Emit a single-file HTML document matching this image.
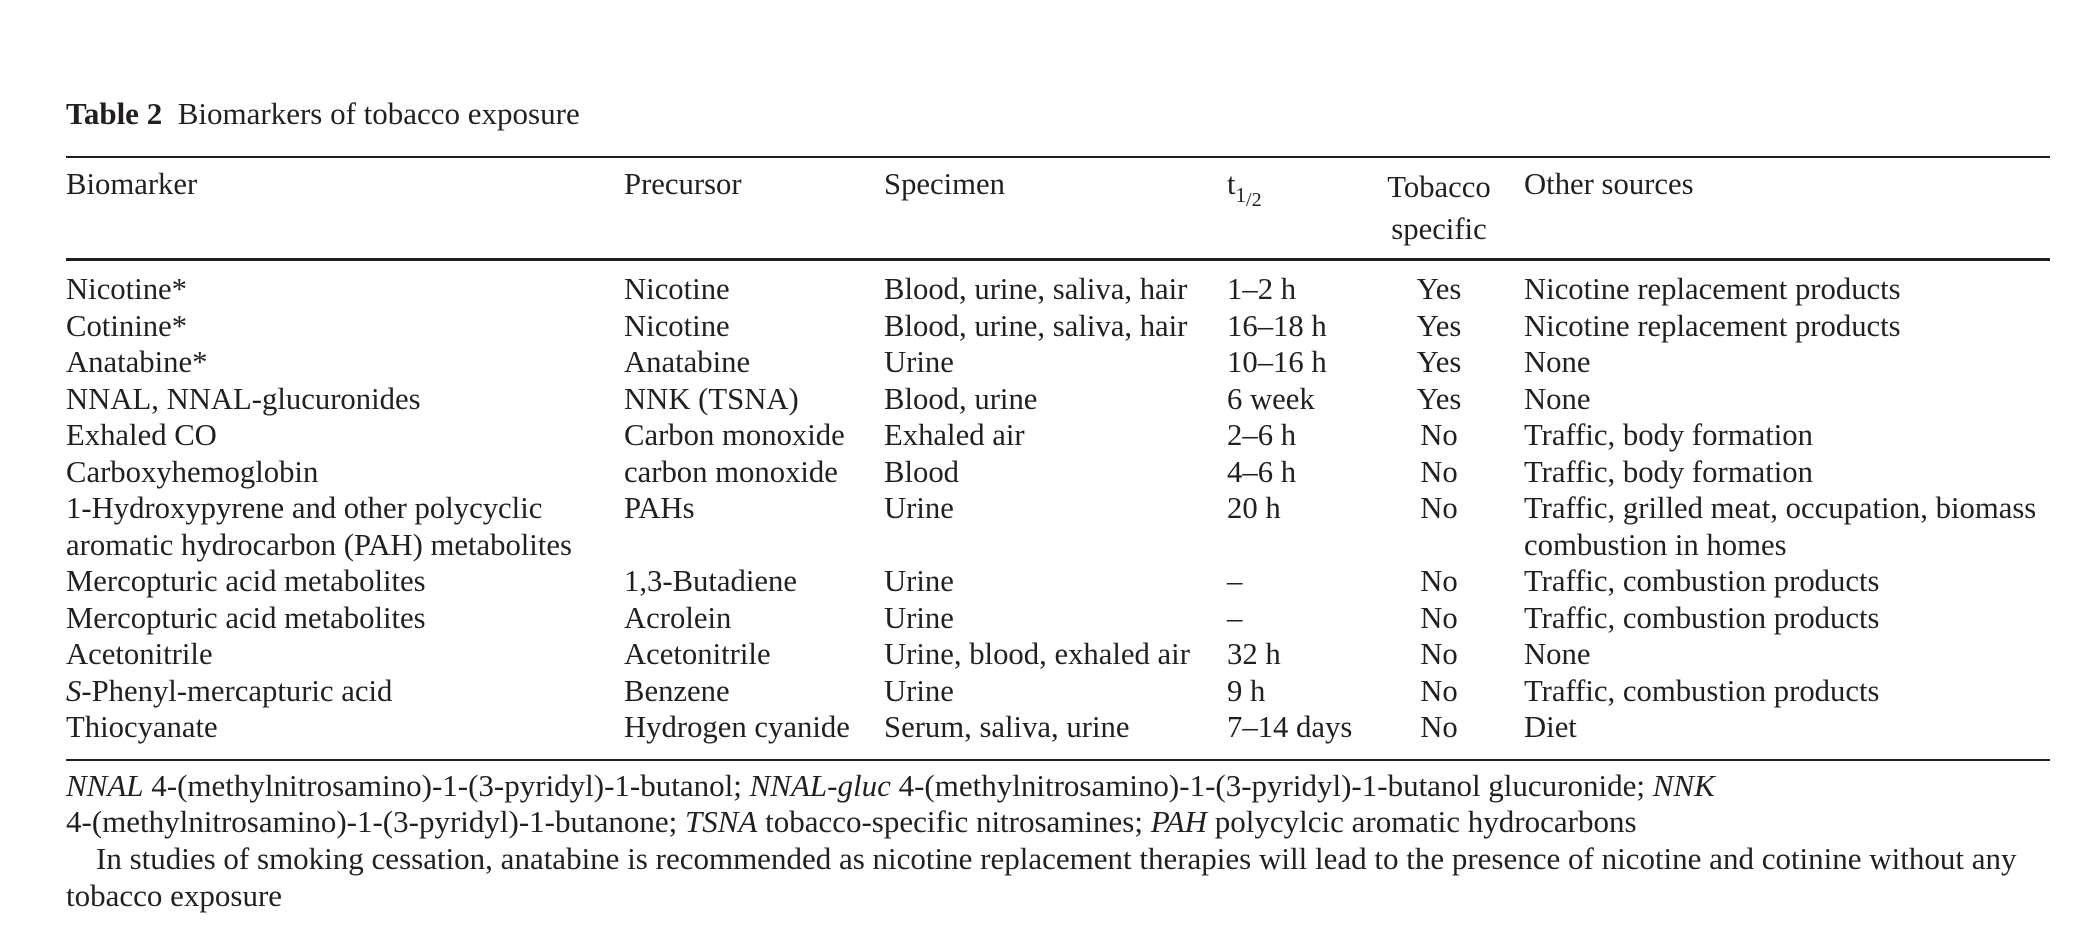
<!DOCTYPE html>
<html><head><meta charset="utf-8">
<style>
body{margin:0;background:#fff;width:2076px;height:949px;position:relative;overflow:hidden;font-family:"Liberation Serif",serif;color:#231f20;font-size:30.7px}
.t{position:absolute;white-space:nowrap;line-height:36.5px}
.fn{font-size:31px}
.rule{position:absolute;left:66px;width:1984px;background:#231f20}
i{font-style:italic}
</style></head><body>
<div class="t fn" style="left:66px;top:96px"><b>Table 2</b>&nbsp; Biomarkers of tobacco exposure</div>
<div class="rule" style="top:156px;height:2px"></div>
<div class="t" style="left:66px;top:166px">Biomarker</div>
<div class="t" style="left:624px;top:166px">Precursor</div>
<div class="t" style="left:884px;top:166px">Specimen</div>
<div class="t" style="left:1227px;top:166px">t<span style="font-size:21px;position:relative;top:8px">1</span><span style="font-size:20px;position:relative;top:12px">/2</span></div>
<div class="t" style="left:1364px;top:166px;width:150px;text-align:center;line-height:42px;white-space:normal">Tobacco specific</div>
<div class="t" style="left:1524px;top:166px">Other sources</div>
<div class="rule" style="top:258px;height:3px"></div>
<div id="rows"></div>
<div class="rule" style="top:759px;height:2px"></div>
<div class="t fn" style="left:66px;top:768px"><i>NNAL</i> 4-(methylnitrosamino)-1-(3-pyridyl)-1-butanol; <i>NNAL-gluc</i> 4-(methylnitrosamino)-1-(3-pyridyl)-1-butanol glucuronide; <i>NNK</i></div>
<div class="t fn" style="left:66px;top:804px">4-(methylnitrosamino)-1-(3-pyridyl)-1-butanone; <i>TSNA</i> tobacco-specific nitrosamines; <i>PAH</i> polycylcic aromatic hydrocarbons</div>
<div class="t fn" style="left:96px;top:841px">In studies of smoking cessation, anatabine is recommended as nicotine replacement therapies will lead to the presence of nicotine and cotinine without any</div>
<div class="t fn" style="left:66px;top:878px">tobacco exposure</div>
<script>
const biomarkers=["Nicotine*","Cotinine*","Anatabine*","NNAL, NNAL-glucuronides","Exhaled CO","Carboxyhemoglobin","1-Hydroxypyrene and other polycyclic<br>aromatic hydrocarbon (PAH) metabolites","Mercopturic acid metabolites","Mercopturic acid metabolites","Acetonitrile","<i>S</i>-Phenyl-mercapturic acid","Thiocyanate"];
const precursors=["Nicotine","Nicotine","Anatabine","NNK (TSNA)","Carbon monoxide","carbon monoxide","PAHs","1,3-Butadiene","Acrolein","Acetonitrile","Benzene","Hydrogen cyanide"];
const specimens=["Blood, urine, saliva, hair","Blood, urine, saliva, hair","Urine","Blood, urine","Exhaled air","Blood","Urine","Urine","Urine","Urine, blood, exhaled air","Urine","Serum, saliva, urine"];
const halfLives=["1–2 h","16–18 h","10–16 h","6 week","2–6 h","4–6 h","20 h","–","–","32 h","9 h","7–14 days"];
const specific=["Yes","Yes","Yes","Yes","No","No","No","No","No","No","No","No"];
const others=["Nicotine replacement products","Nicotine replacement products","None","None","Traffic, body formation","Traffic, body formation","Traffic, grilled meat, occupation, biomass<br>combustion in homes","Traffic, combustion products","Traffic, combustion products","None","Traffic, combustion products","Diet"];
const lines=[1,1,1,1,1,1,2,1,1,1,1,1];
const host=document.getElementById('rows');
let line=0;
function cell(html,left,top,name,center){
  const d=document.createElement('div');
  d.className='t';
  d.innerHTML=html;
  d.style.left=left+'px';d.style.top=top+'px';
  if(center){d.style.width='150px';d.style.textAlign='center';}
  
  
  host.appendChild(d);
}
for(let i=0;i<biomarkers.length;i++){
  const top=271+line*36.52;
  cell(biomarkers[i],66,top,'biomarker-cell');
  cell(precursors[i],624,top,'precursor-cell');
  cell(specimens[i],884,top,'specimen-cell');
  cell(halfLives[i],1227,top,'half-life-cell');
  cell(specific[i],1364,top,'tobacco-specific-cell',true);
  cell(others[i],1524,top,'other-sources-cell');
  line+=lines[i];
}
</script>
</body></html>
